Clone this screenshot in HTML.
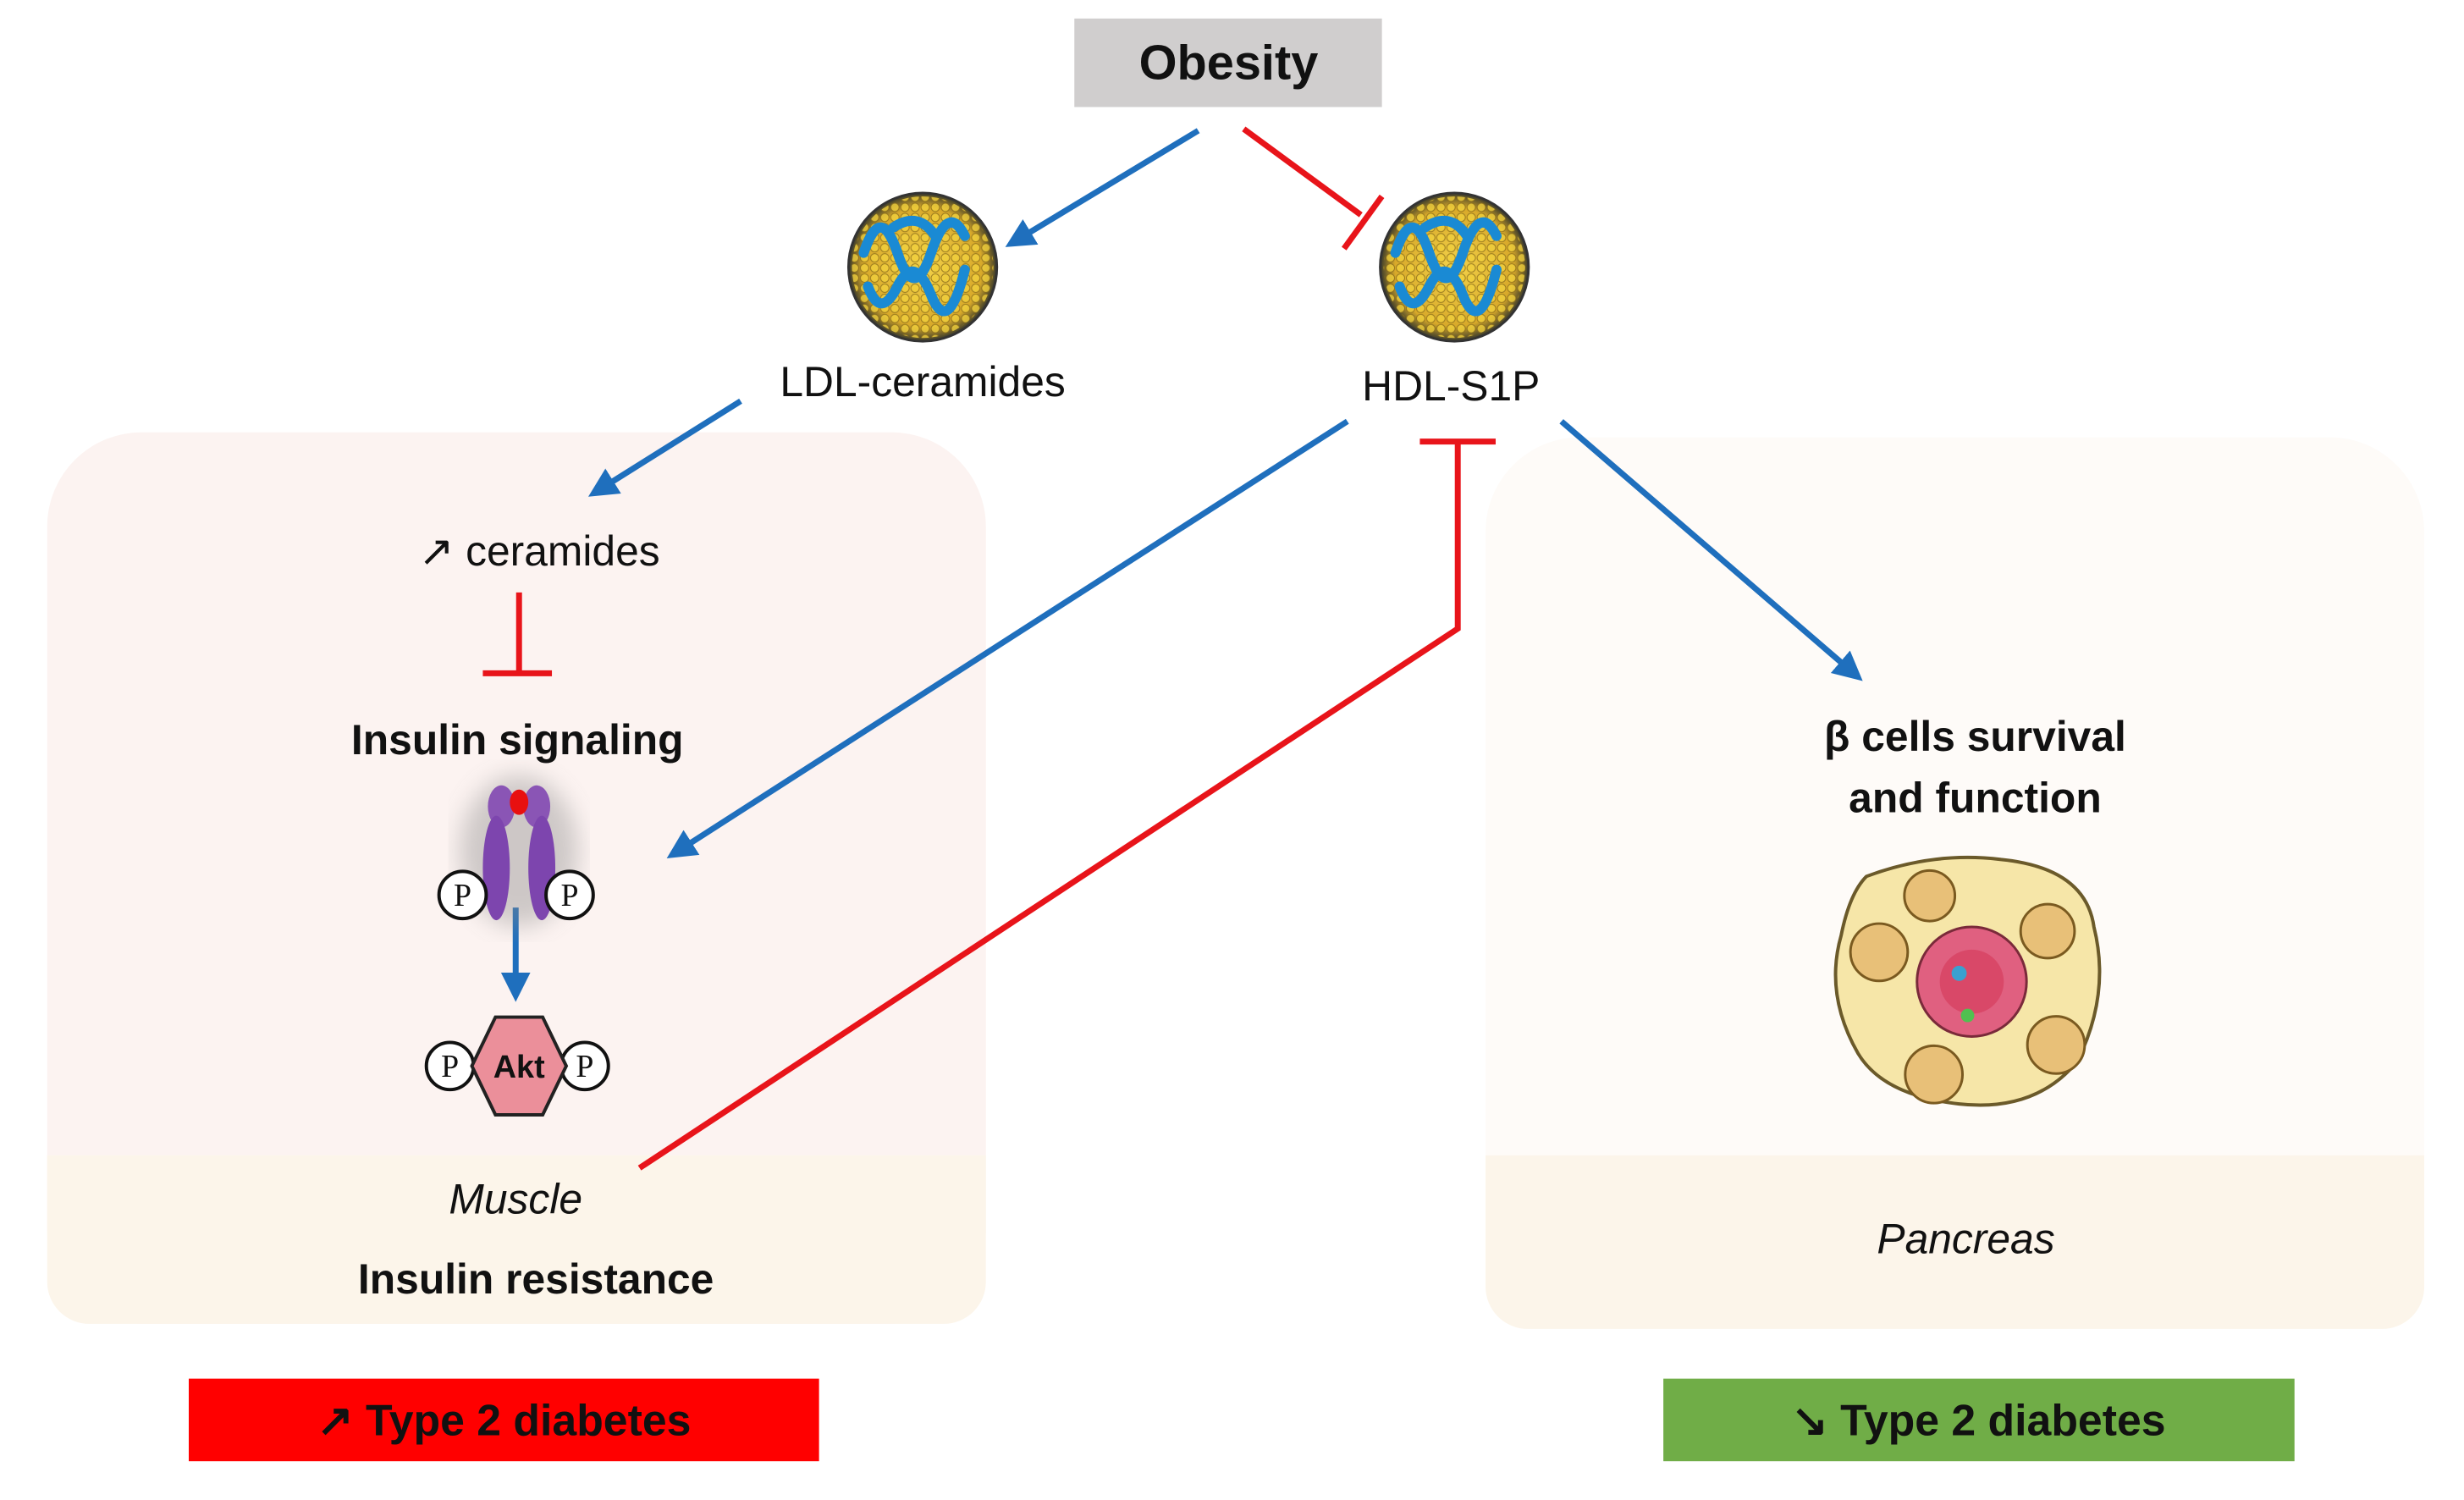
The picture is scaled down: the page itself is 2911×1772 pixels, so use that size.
<!DOCTYPE html>
<html><head><meta charset="utf-8"><style>
html,body{margin:0;padding:0;background:#fff;}
body{width:2911px;height:1772px;overflow:hidden;position:relative;font-family:"Liberation Sans",sans-serif;}
</style></head><body>
<svg width="2911" height="1772" viewBox="0 0 2911 1772" xmlns="http://www.w3.org/2000/svg" style="position:absolute;left:0;top:0">
<defs>
<marker id="ab" markerWidth="6" markerHeight="6" refX="3" refY="3" orient="auto" markerUnits="strokeWidth"><path d="M0,0.5 L5,3 L0,5.5 z" fill="#1f6fbd"/></marker>
<radialGradient id="sp" cx="50%" cy="50%" r="50%"><stop offset="0" stop-color="#f3d24a"/><stop offset="0.8" stop-color="#d8a92a"/><stop offset="1" stop-color="#3a3a2a"/></radialGradient>
<pattern id="dots" width="12" height="12" patternUnits="userSpaceOnUse"><circle cx="6" cy="6" r="5" fill="#f0cf3c" stroke="#8a6d1a" stroke-width="1"/></pattern>
<filter id="bl"><feGaussianBlur stdDeviation="14"/></filter>
</defs>
<g transform="scale(0.9955)">
<rect x="56" y="513" width="1114" height="1058" rx="112" fill="#fcf3f1"/>
<path d="M56 1371 H1170 V1521 a50 50 0 0 1 -50 50 H106 a50 50 0 0 1 -50 -50 Z" fill="#fcf5ea"/>
<rect x="1763" y="519" width="1114" height="1058" rx="112" fill="#fefbf8"/>
<path d="M1763 1371 H2877 V1527 a50 50 0 0 1 -50 50 H1813 a50 50 0 0 1 -50 -50 Z" fill="#fcf5ea"/>
<rect x="1275" y="22" width="365" height="105" fill="#d0cece"/>
<text x="1458" y="94" font-size="58" font-weight="bold" text-anchor="middle" fill="#111">Obesity</text>
<g>
<circle cx="1095" cy="317" r="88" fill="url(#sp)"/><circle cx="1095" cy="317" r="84" fill="url(#dots)" opacity="0.8"/><circle cx="1095" cy="317" r="88" fill="none" stroke="#333" stroke-width="3"/>
<path d="M1025 300 q20 -60 40 0 t40 0 t40 -20 M1030 340 q15 40 35 0 t40 10 t40 -30 M1060 270 q30 -20 50 10" fill="none" stroke="#1a8ad4" stroke-width="12" stroke-linecap="round"/>
<circle cx="1726" cy="317" r="88" fill="url(#sp)"/><circle cx="1726" cy="317" r="84" fill="url(#dots)" opacity="0.8"/><circle cx="1726" cy="317" r="88" fill="none" stroke="#333" stroke-width="3"/>
<path d="M1656 300 q20 -60 40 0 t40 0 t40 -20 M1661 340 q15 40 35 0 t40 10 t40 -30 M1691 270 q30 -20 50 10" fill="none" stroke="#1a8ad4" stroke-width="12" stroke-linecap="round"/>
</g>
<g font-size="50" fill="#111" text-anchor="middle">
<text x="1095" y="470">LDL-ceramides</text>
<text x="1722" y="475">HDL-S1P</text>
<text x="640" y="671">↗ ceramides</text>
<text x="612" y="1440" font-style="italic">Muscle</text>
<text x="2333" y="1487" font-style="italic">Pancreas</text>
</g>
<g font-size="50" fill="#111" text-anchor="middle" font-weight="bold">
<text x="614" y="895">Insulin signaling</text>
<text x="2344" y="891">β cells survival</text>
<text x="2344" y="964">and function</text>
<text x="636" y="1535">Insulin resistance</text>
</g>
<g stroke="#1f6fbd" stroke-width="7" fill="none">
<line x1="1422" y1="155" x2="1205" y2="286" marker-end="url(#ab)"/>
<line x1="879" y1="476" x2="710" y2="582" marker-end="url(#ab)"/>
<line x1="1599" y1="500" x2="803" y2="1011" marker-end="url(#ab)"/>
<line x1="1853" y1="500" x2="2200" y2="799" marker-end="url(#ab)"/>
<line x1="612" y1="1077" x2="612" y2="1175" marker-end="url(#ab)"/>
</g>
<g stroke="#e8141a" stroke-width="7" fill="none">
<line x1="1476" y1="153" x2="1615" y2="255"/>
<line x1="1595" y1="295" x2="1640" y2="233"/>
<line x1="616" y1="703" x2="616" y2="797"/>
<line x1="573" y1="799" x2="655" y2="799"/>
<polyline points="759,1386 1730,746 1730,526"/>
<line x1="1685" y1="524" x2="1775" y2="524"/>
</g>
<ellipse cx="616" cy="1010" rx="70" ry="90" fill="#888" opacity="0.4" filter="url(#bl)"/>
<ellipse cx="595" cy="957" rx="16" ry="25" fill="#8a55b5"/>
<ellipse cx="637" cy="957" rx="16" ry="25" fill="#8a55b5"/>
<ellipse cx="616" cy="952" rx="11" ry="15" fill="#e81010"/>
<ellipse cx="589" cy="1030" rx="16" ry="62" fill="#7d45ae"/>
<ellipse cx="643" cy="1030" rx="16" ry="62" fill="#7d45ae"/>
<g font-family="Liberation Serif,serif" font-size="38" text-anchor="middle" fill="#111">
<circle cx="549" cy="1062" r="28" fill="#fff" stroke="#111" stroke-width="4"/><text x="549" y="1075">P</text>
<circle cx="676" cy="1062" r="28" fill="#fff" stroke="#111" stroke-width="4"/><text x="676" y="1075">P</text>
<circle cx="534" cy="1265" r="28" fill="#fff" stroke="#111" stroke-width="4"/><text x="534" y="1278">P</text>
<circle cx="694" cy="1265" r="28" fill="#fff" stroke="#111" stroke-width="4"/><text x="694" y="1278">P</text>
</g>
<polygon points="588,1207 644,1207 672,1265 644,1323 588,1323 560,1265" fill="#eb8f9a" stroke="#222" stroke-width="4"/>
<text x="616" y="1279" font-size="38" font-weight="bold" text-anchor="middle" fill="#111">Akt</text>
<path d="M2215 1040 q80 -30 160 -20 q100 10 110 80 q20 80 -20 160 q-50 60 -140 50 q-90 -10 -120 -60 q-40 -70 -20 -140 q10 -50 30 -70z" fill="#f6e6a8" stroke="#6b5a2a" stroke-width="4"/>
<circle cx="2340" cy="1165" r="65" fill="#e06080" stroke="#7a2a3a" stroke-width="3"/>
<circle cx="2340" cy="1165" r="38" fill="#d94868"/>
<g fill="#e8c078" stroke="#7a5a20" stroke-width="3">
<circle cx="2230" cy="1130" r="34"/><circle cx="2290" cy="1063" r="30"/><circle cx="2430" cy="1105" r="32"/><circle cx="2440" cy="1240" r="34"/><circle cx="2295" cy="1275" r="34"/>
</g>
<circle cx="2325" cy="1155" r="9" fill="#3aa0d0"/><circle cx="2335" cy="1205" r="8" fill="#50c050"/>
<rect x="224" y="1636" width="748" height="98" fill="#ff0000"/>
<text x="598" y="1703" font-size="52" font-weight="bold" text-anchor="middle" fill="#111">↗ Type 2 diabetes</text>
<rect x="1974" y="1636" width="749" height="98" fill="#70ad47"/>
<text x="2348" y="1703" font-size="52" font-weight="bold" text-anchor="middle" fill="#111">↘ Type 2 diabetes</text>
</g>
</svg>
</body></html>
